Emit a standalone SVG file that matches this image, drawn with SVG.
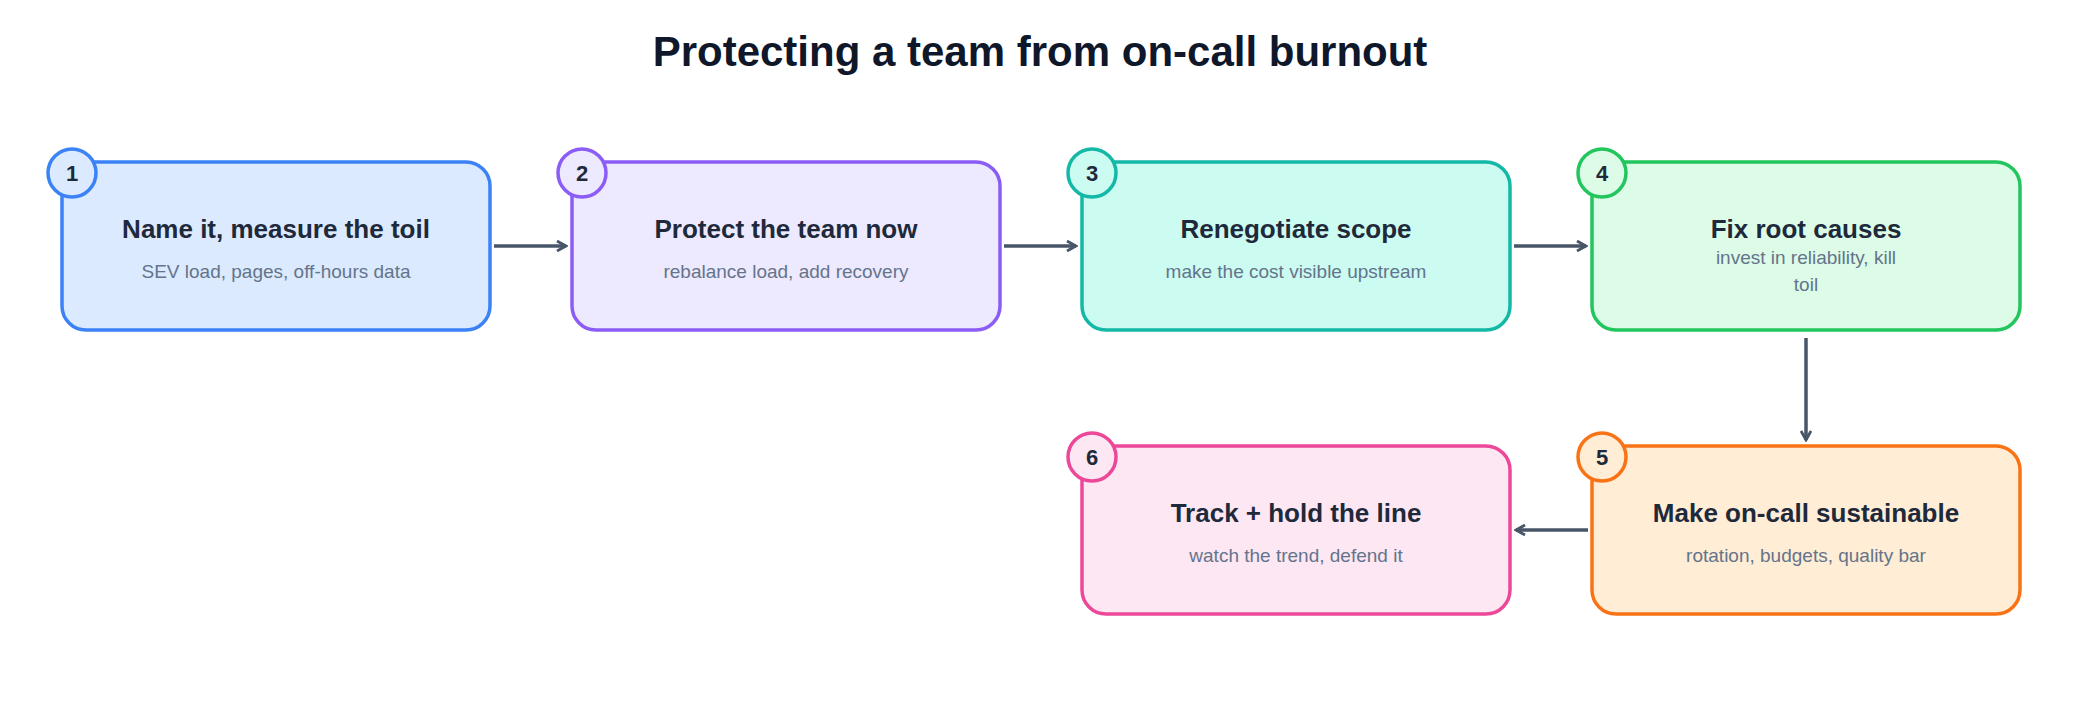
<svg xmlns="http://www.w3.org/2000/svg" width="2080" height="704" viewBox="0 0 2080 704">
<style>
text{font-family:"Liberation Sans",Arial,sans-serif;text-anchor:middle}
.t{font-size:26px;font-weight:bold;fill:#1e293b}
.s{font-size:19px;fill:#64748b}
.b{font-size:22px;font-weight:bold;fill:#1e293b}
.h{font-size:42px;font-weight:bold;fill:#0f172a}
.box{stroke-width:3.5}
.c{stroke:#475569;stroke-width:3.5;fill:none;marker-end:url(#a)}
</style>
<defs><marker id="a" viewBox="0 0 12 12" refX="10" refY="6" markerWidth="12" markerHeight="12" markerUnits="userSpaceOnUse" orient="auto"><path d="M1,1 L10,6 L1,11" fill="none" stroke="#475569" stroke-width="2.8"/></marker></defs>
<rect width="2080" height="704" fill="#fff"/>
<text class="h" x="1040" y="66">Protecting a team from on-call burnout</text>
<g id="connectors">
<path class="c" d="M494,246 H566"/>
<path class="c" d="M1004,246 H1076"/>
<path class="c" d="M1514,246 H1586"/>
<path class="c" d="M1806,338 V440"/>
<path class="c" d="M1588,530 H1516"/>
</g>
<g id="n1"><rect class="box" x="62" y="162" width="428" height="168" rx="24" fill="#dbeafe" stroke="#3b82f6"/><circle cx="72" cy="173" r="24" fill="#dbeafe" stroke="#3b82f6" stroke-width="3.5"/><text class="b" x="72" y="181">1</text><text class="t" x="276" y="238">Name it, measure the toil</text><text class="s" x="276" y="278">SEV load, pages, off-hours data</text></g>
<g id="n2"><rect class="box" x="572" y="162" width="428" height="168" rx="24" fill="#ede9fe" stroke="#8b5cf6"/><circle cx="582" cy="173" r="24" fill="#ede9fe" stroke="#8b5cf6" stroke-width="3.5"/><text class="b" x="582" y="181">2</text><text class="t" x="786" y="238">Protect the team now</text><text class="s" x="786" y="278">rebalance load, add recovery</text></g>
<g id="n3"><rect class="box" x="1082" y="162" width="428" height="168" rx="24" fill="#ccfbf1" stroke="#14b8a6"/><circle cx="1092" cy="173" r="24" fill="#ccfbf1" stroke="#14b8a6" stroke-width="3.5"/><text class="b" x="1092" y="181">3</text><text class="t" x="1296" y="238">Renegotiate scope</text><text class="s" x="1296" y="278">make the cost visible upstream</text></g>
<g id="n4"><rect class="box" x="1592" y="162" width="428" height="168" rx="24" fill="#dcfce7" stroke="#22c55e"/><circle cx="1602" cy="173" r="24" fill="#dcfce7" stroke="#22c55e" stroke-width="3.5"/><text class="b" x="1602" y="181">4</text><text class="t" x="1806" y="238">Fix root causes</text><text class="s" x="1806" y="264">invest in reliability, kill</text><text class="s" x="1806" y="291">toil</text></g>
<g id="n5"><rect class="box" x="1592" y="446" width="428" height="168" rx="24" fill="#ffedd5" stroke="#f97316"/><circle cx="1602" cy="457" r="24" fill="#ffedd5" stroke="#f97316" stroke-width="3.5"/><text class="b" x="1602" y="465">5</text><text class="t" x="1806" y="522">Make on-call sustainable</text><text class="s" x="1806" y="562">rotation, budgets, quality bar</text></g>
<g id="n6"><rect class="box" x="1082" y="446" width="428" height="168" rx="24" fill="#fce7f3" stroke="#ec4899"/><circle cx="1092" cy="457" r="24" fill="#fce7f3" stroke="#ec4899" stroke-width="3.5"/><text class="b" x="1092" y="465">6</text><text class="t" x="1296" y="522">Track + hold the line</text><text class="s" x="1296" y="562">watch the trend, defend it</text></g>
</svg>
